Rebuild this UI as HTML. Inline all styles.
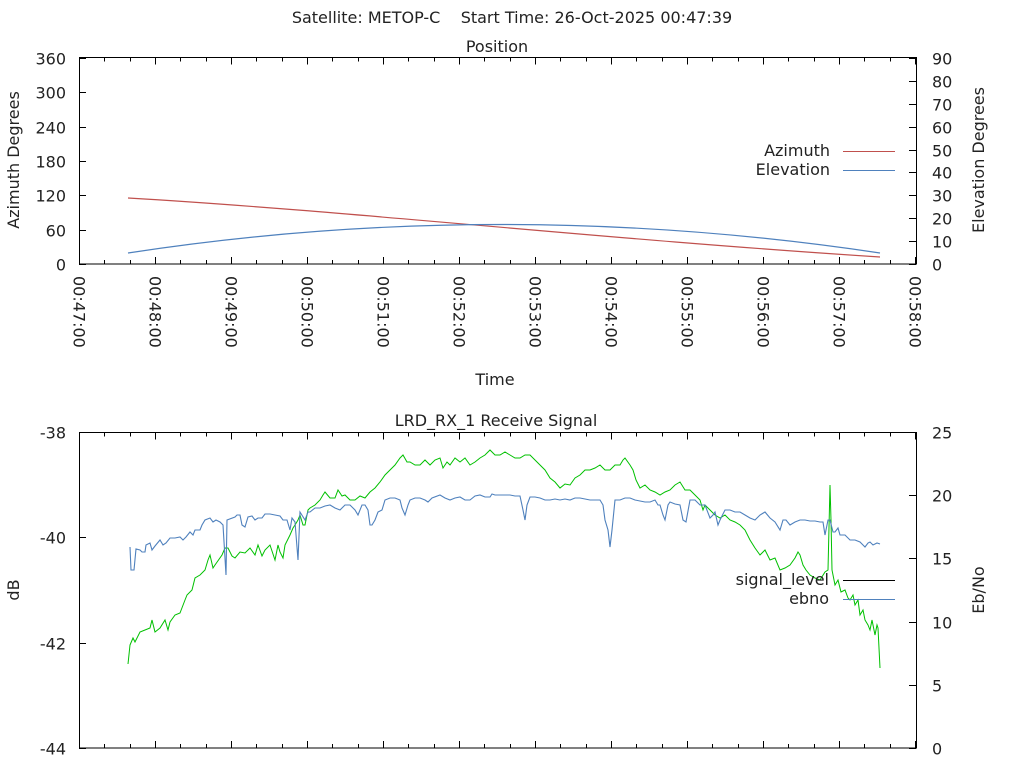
<!DOCTYPE html>
<html><head><meta charset="utf-8"><style>
html,body{margin:0;padding:0;background:#fff}
svg{display:block}
text{font-family:"DejaVu Sans","Liberation Sans",sans-serif;font-size:16px;fill:#222}
</style></head><body>
<svg id="s" width="1024" height="768" viewBox="0 0 1024 768" xmlns="http://www.w3.org/2000/svg">
<text x="512" y="23" text-anchor="middle" xml:space="preserve">Satellite: METOP-C    Start Time: 26-Oct-2025 00:47:39</text>
<text x="497" y="52" text-anchor="middle">Position</text>
<text x="496" y="426" text-anchor="middle">LRD_RX_1 Receive Signal</text>
<text x="495" y="385" text-anchor="middle">Time</text>
<text transform="translate(19,160) rotate(-90)" text-anchor="middle">Azimuth Degrees</text>
<text transform="translate(984,160) rotate(-90)" text-anchor="middle">Elevation Degrees</text>
<text transform="translate(19,590) rotate(-90)" text-anchor="middle">dB</text>
<text transform="translate(984,590) rotate(-90)" text-anchor="middle">Eb/No</text>
<rect x="79.5" y="57.5" width="837" height="206.5" fill="none" stroke="#000" stroke-width="1"/>
<rect x="79.5" y="432.5" width="837" height="315.5" fill="none" stroke="#000" stroke-width="1"/>
<g id="tk" stroke="#000" stroke-width="1"></g>
<g id="lb"></g>
<text x="830" y="156" text-anchor="end">Azimuth</text>
<text x="830" y="175" text-anchor="end">Elevation</text>
<line x1="843" y1="151.5" x2="895" y2="151.5" stroke="#c0504d"/>
<line x1="843" y1="170.5" x2="895" y2="170.5" stroke="#4f81bd"/>
<path d="M128,198 C350,211 600,239 880,257" fill="none" stroke="#c0504d" stroke-width="1.2"/>
<path d="M128,253 Q500,196 880,253" fill="none" stroke="#4f81bd" stroke-width="1.2"/>
<polyline fill="none" stroke="#00c000" stroke-width="1" points="128,664 130,645 133,638 135,642 140,632 145,630 150,628 152,620 155,632 160,628 165,620 168,630 170,622 175,615 180,613 185,600 187,595 192,590 195,578 200,575 205,570 208,560 210,555 213,568 215,565 222,555 225,548 228,548 232,556 235,558 240,552 245,553 250,548 255,555 258,545 262,556 265,550 270,545 275,560 278,545 280,552 283,558 285,545 290,535 293,528 295,525 298,520 300,515 303,525 305,525 308,510 310,508 315,505 320,500 323,495 325,492 330,498 335,498 338,490 342,496 345,495 350,500 355,500 360,496 365,498 370,492 375,488 380,482 385,475 390,470 395,465 400,458 403,455 407,462 410,462 415,465 420,465 425,460 430,465 435,460 440,458 443,468 447,462 450,465 455,458 460,462 465,458 470,465 475,462 480,458 485,455 490,450 495,455 500,455 505,452 510,455 515,458 520,458 525,455 530,455 535,460 540,465 545,470 550,478 555,482 560,488 565,484 570,485 575,478 580,475 585,470 590,470 595,468 600,465 605,470 610,470 615,465 620,465 623,460 625,458 630,465 633,470 636,480 640,488 645,485 650,490 655,492 660,495 665,492 670,490 675,485 680,482 685,490 690,490 695,495 700,500 703,510 705,505 710,510 715,515 720,518 725,515 730,520 735,522 740,525 745,530 750,540 755,548 760,555 765,550 770,560 775,558 780,570 785,568 790,565 795,558 798,552 800,555 803,565 806,570 810,575 815,578 820,580 825,572 828,570 830,485 831,520 832,570 835,585 838,580 841,592 845,590 848,598 850,600 853,595 855,605 858,600 860,615 863,610 865,620 868,625 870,630 872,620 875,635 877,625 878,628 880,668"/>
<polyline fill="none" stroke="#4f81bd" stroke-width="1.1" points="130,547 131,570 134,570 136,549 140,550 142,552 145,552 146,545 150,543 152,550 155,546 160,540 163,545 166,543 170,538 175,538 180,537 183,540 186,537 190,532 193,535 195,530 200,530 202,525 205,520 210,518 213,522 216,520 220,522 223,525 226,575 227,520 235,517 237,515 240,515 242,525 245,527 248,517 252,516 255,520 258,518 262,518 265,514 270,514 275,515 280,516 283,520 287,520 290,530 292,518 295,522 298,560 300,512 305,520 308,512 310,512 315,508 320,508 325,506 330,505 335,508 340,510 345,505 350,505 355,510 358,515 362,505 365,505 368,510 370,525 372,525 375,520 378,512 382,510 385,500 390,498 395,498 400,500 402,508 405,515 408,505 410,500 415,498 420,498 425,500 428,502 432,498 440,495 445,498 450,500 455,498 460,497 465,500 470,500 475,496 480,495 485,497 490,497 492,494 495,495 500,495 505,495 510,495 515,496 520,496 523,510 525,520 527,505 530,497 535,497 540,498 545,500 550,500 555,499 560,500 565,499 570,500 575,498 580,498 585,499 590,500 600,500 603,505 605,520 608,530 610,547 612,530 615,500 620,500 625,498 630,498 635,500 640,501 645,502 650,502 655,500 658,505 660,505 663,515 665,520 668,505 670,502 675,504 680,505 683,520 686,522 690,500 695,500 700,505 705,505 710,518 713,515 715,512 718,525 720,520 725,510 730,510 735,512 740,512 745,515 750,518 755,520 760,515 765,512 770,518 775,522 780,530 783,520 786,520 790,525 795,522 800,520 805,520 810,521 815,521 820,522 823,522 825,535 828,520 830,520 833,532 835,532 838,528 840,535 845,535 850,540 855,540 860,542 863,545 865,547 868,543 870,542 873,545 877,543 880,544"/>
<text x="829" y="585" text-anchor="end">signal_level</text>
<text x="829" y="604" text-anchor="end">ebno</text>
<line x1="843" y1="580.5" x2="895" y2="580.5" stroke="#000"/>
<line x1="843" y1="599.5" x2="895" y2="599.5" stroke="#4f81bd"/>
</svg>
<script>
var tk=document.getElementById('tk'),lb=document.getElementById('lb'),NS='http://www.w3.org/2000/svg';
function L(x1,y1,x2,y2){var l=document.createElementNS(NS,'line');l.setAttribute('x1',x1);l.setAttribute('y1',y1);l.setAttribute('x2',x2);l.setAttribute('y2',y2);tk.appendChild(l);}
function T(x,y,s,a,tr){var t=document.createElementNS(NS,'text');t.setAttribute('x',x);t.setAttribute('y',y);t.setAttribute('text-anchor',a);if(tr)t.setAttribute('transform',tr);t.textContent=s;lb.appendChild(t);}
for(var i=0;i<=33;i++){var x=Math.round(79+i*76/3)+0.5,maj=i%3==0,len=maj?7:4;
 [[57.5,264],[432.5,748]].forEach(function(p){L(x,p[0],x,p[0]+len);L(x,p[1],x,p[1]-len);});
 if(maj){var m=47+i/3,s='00:'+String(m).padStart(2,'0')+':00';T(0,0,s,'start','translate('+(x-6)+',276) rotate(90)');}}
for(var i=0;i<=6;i++){var y=Math.round(264-i*206/6)+0.5;L(79,y,86,y);T(66,y+6,String(i*60),'end');}
for(var i=0;i<=9;i++){var y=Math.round(264-i*206/9)+0.5;L(916,y,909,y);T(932,y+6,String(i*10),'start');}
for(var i=0;i<=3;i++){var y=Math.round(432+i*316/3)+0.5;L(79,y,86,y);T(66,y+6,String(-38-2*i),'end');}
for(var i=0;i<=5;i++){var y=Math.round(748-i*316/5)+0.5;L(916,y,909,y);T(932,y+6,String(i*5),'start');}
</script>
</body></html>
